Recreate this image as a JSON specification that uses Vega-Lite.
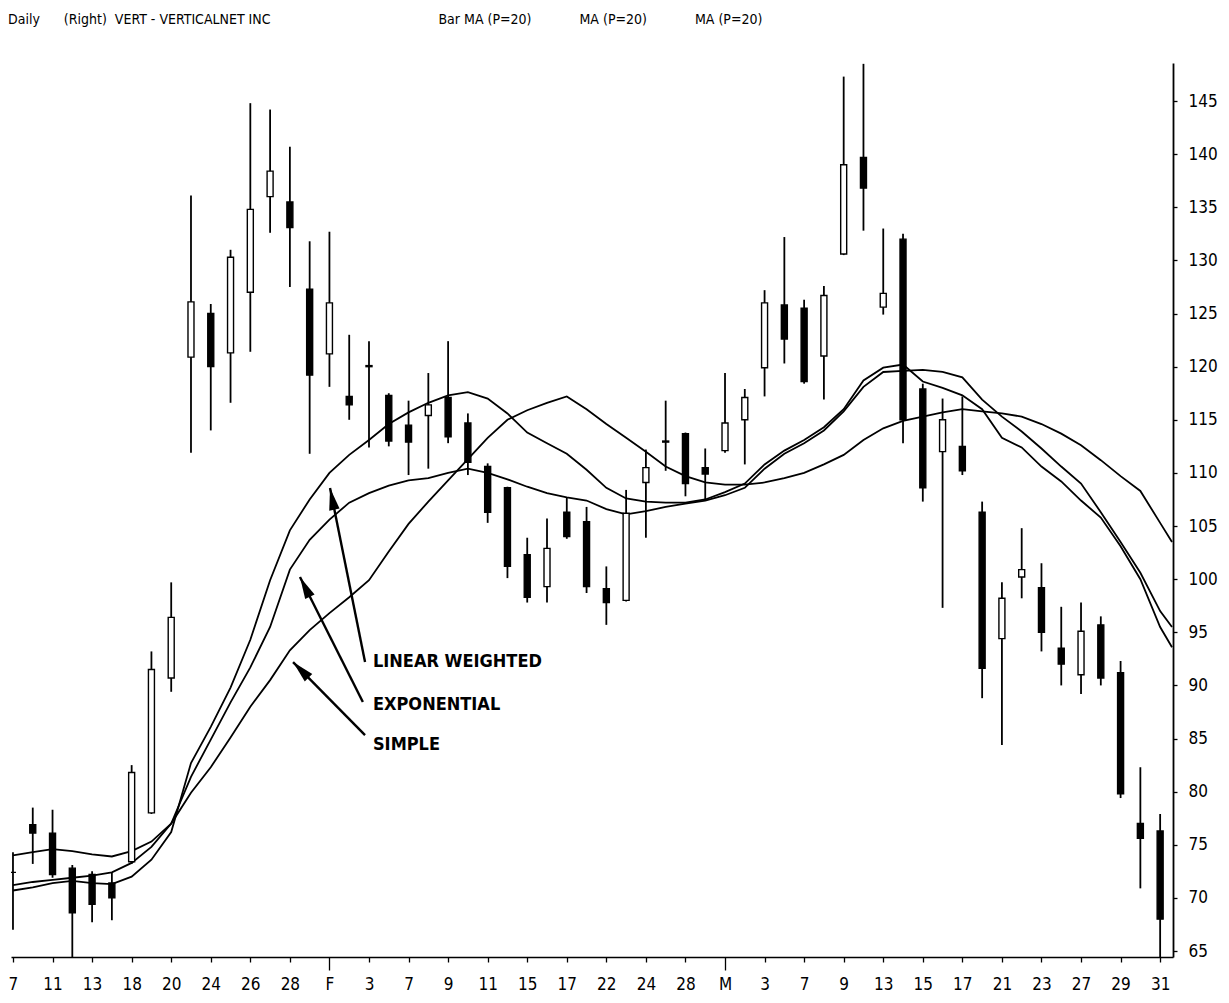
{
  "$schema": "https://vega.github.io/schema/vega-lite/v6.json",
  "autosize": "none",
  "width": 1162,
  "height": 894,
  "padding": {"left": 11, "top": 63, "right": 56, "bottom": 46},
  "background": "white",
  "view": {"stroke": null},
  "title": {
    "text": "Daily\u00a0\u00a0\u00a0\u00a0\u00a0\u00a0(Right)\u00a0\u00a0VERT - VERTICALNET INC\u00a0\u00a0\u00a0\u00a0\u00a0\u00a0\u00a0\u00a0\u00a0\u00a0\u00a0\u00a0\u00a0\u00a0\u00a0\u00a0\u00a0\u00a0\u00a0\u00a0\u00a0\u00a0\u00a0\u00a0\u00a0\u00a0\u00a0\u00a0\u00a0\u00a0\u00a0\u00a0\u00a0\u00a0\u00a0\u00a0\u00a0\u00a0\u00a0\u00a0\u00a0\u00a0Bar\u00a0MA (P=20)\u00a0\u00a0\u00a0\u00a0\u00a0\u00a0\u00a0\u00a0\u00a0\u00a0\u00a0\u00a0MA (P=20)\u00a0\u00a0\u00a0\u00a0\u00a0\u00a0\u00a0\u00a0\u00a0\u00a0\u00a0\u00a0MA (P=20)",
    "anchor": "start",
    "frame": "group",
    "offset": 36,
    "dx": -3,
    "font": "Liberation Sans Narrow, Arial Narrow, DejaVu Sans Condensed, Liberation Sans, sans-serif",
    "fontSize": 14,
    "fontWeight": "normal",
    "color": "black"
  },
  "datasets": {
    "candles": [
      {"d": "Jan 7", "i": 0, "o": 72.4, "h": 74.3, "l": 67.0, "c": 72.4},
      {"d": "Jan 10", "i": 1, "o": 76.9, "h": 78.5, "l": 73.2, "c": 76.1},
      {"d": "Jan 11", "i": 2, "o": 76.1, "h": 78.3, "l": 71.9, "c": 72.2},
      {"d": "Jan 12", "i": 3, "o": 72.8, "h": 73.1, "l": 64.0, "c": 68.6},
      {"d": "Jan 13", "i": 4, "o": 72.2, "h": 72.5, "l": 67.7, "c": 69.4},
      {"d": "Jan 14", "i": 5, "o": 71.4, "h": 72.4, "l": 67.9, "c": 70.0},
      {"d": "Jan 18", "i": 6, "o": 73.4, "h": 82.5, "l": 73.2, "c": 81.8},
      {"d": "Jan 19", "i": 7, "o": 78.0, "h": 93.2, "l": 77.9, "c": 91.5},
      {"d": "Jan 20", "i": 8, "o": 90.7, "h": 99.7, "l": 89.4, "c": 96.4},
      {"d": "Jan 21", "i": 9, "o": 120.9, "h": 136.1, "l": 111.9, "c": 126.1},
      {"d": "Jan 24", "i": 10, "o": 125.0, "h": 125.9, "l": 114.0, "c": 120.0},
      {"d": "Jan 25", "i": 11, "o": 121.3, "h": 131.0, "l": 116.6, "c": 130.3},
      {"d": "Jan 26", "i": 12, "o": 127.0, "h": 144.8, "l": 121.4, "c": 134.8},
      {"d": "Jan 27", "i": 13, "o": 136.0, "h": 144.2, "l": 132.6, "c": 138.4},
      {"d": "Jan 28", "i": 14, "o": 135.5, "h": 140.7, "l": 127.5, "c": 133.1},
      {"d": "Jan 31", "i": 15, "o": 127.3, "h": 131.8, "l": 111.8, "c": 119.2},
      {"d": "Feb 1", "i": 16, "o": 121.2, "h": 132.7, "l": 118.1, "c": 126.0},
      {"d": "Feb 2", "i": 17, "o": 117.2, "h": 123.0, "l": 115.0, "c": 116.4},
      {"d": "Feb 3", "i": 18, "o": 120.1, "h": 122.4, "l": 112.4, "c": 120.0},
      {"d": "Feb 4", "i": 19, "o": 117.3, "h": 117.5, "l": 112.5, "c": 113.0},
      {"d": "Feb 7", "i": 20, "o": 114.5, "h": 116.8, "l": 109.8, "c": 112.9},
      {"d": "Feb 8", "i": 21, "o": 115.4, "h": 119.4, "l": 110.4, "c": 116.4},
      {"d": "Feb 9", "i": 22, "o": 117.1, "h": 122.4, "l": 112.8, "c": 113.4},
      {"d": "Feb 10", "i": 23, "o": 114.7, "h": 115.6, "l": 109.8, "c": 111.0},
      {"d": "Feb 11", "i": 24, "o": 110.6, "h": 110.9, "l": 105.3, "c": 106.3},
      {"d": "Feb 14", "i": 25, "o": 108.6, "h": 108.7, "l": 100.1, "c": 101.2},
      {"d": "Feb 15", "i": 26, "o": 102.3, "h": 103.9, "l": 97.8, "c": 98.3},
      {"d": "Feb 16", "i": 27, "o": 99.3, "h": 105.7, "l": 97.8, "c": 102.9},
      {"d": "Feb 17", "i": 28, "o": 106.3, "h": 107.7, "l": 103.8, "c": 104.0},
      {"d": "Feb 18", "i": 29, "o": 105.4, "h": 106.8, "l": 98.7, "c": 99.3},
      {"d": "Feb 22", "i": 30, "o": 99.1, "h": 101.2, "l": 95.7, "c": 97.8},
      {"d": "Feb 23", "i": 31, "o": 98.0, "h": 108.4, "l": 97.9, "c": 106.2},
      {"d": "Feb 24", "i": 32, "o": 109.1, "h": 112.2, "l": 103.9, "c": 110.5},
      {"d": "Feb 25", "i": 33, "o": 112.9, "h": 116.8, "l": 110.2, "c": 113.0},
      {"d": "Feb 28", "i": 34, "o": 113.7, "h": 113.8, "l": 107.8, "c": 109.0},
      {"d": "Feb 29", "i": 35, "o": 110.5, "h": 112.3, "l": 107.4, "c": 109.9},
      {"d": "Mar 1", "i": 36, "o": 112.1, "h": 119.4, "l": 111.9, "c": 114.7},
      {"d": "Mar 2", "i": 37, "o": 115.0, "h": 117.9, "l": 110.8, "c": 117.1},
      {"d": "Mar 3", "i": 38, "o": 119.9, "h": 127.2, "l": 117.2, "c": 126.0},
      {"d": "Mar 6", "i": 39, "o": 125.8, "h": 132.2, "l": 120.3, "c": 122.6},
      {"d": "Mar 7", "i": 40, "o": 125.5, "h": 126.3, "l": 118.4, "c": 118.6},
      {"d": "Mar 8", "i": 41, "o": 121.0, "h": 127.6, "l": 116.9, "c": 126.7},
      {"d": "Mar 9", "i": 42, "o": 130.6, "h": 147.3, "l": 130.5, "c": 139.0},
      {"d": "Mar 10", "i": 43, "o": 139.7, "h": 148.5, "l": 132.8, "c": 136.8},
      {"d": "Mar 13", "i": 44, "o": 125.6, "h": 133.0, "l": 124.9, "c": 126.9},
      {"d": "Mar 14", "i": 45, "o": 132.0, "h": 132.5, "l": 112.8, "c": 115.0},
      {"d": "Mar 15", "i": 46, "o": 117.9, "h": 118.4, "l": 107.3, "c": 108.6},
      {"d": "Mar 16", "i": 47, "o": 112.0, "h": 117.0, "l": 97.3, "c": 115.0},
      {"d": "Mar 17", "i": 48, "o": 112.5, "h": 117.2, "l": 109.8, "c": 110.2},
      {"d": "Mar 20", "i": 49, "o": 106.3, "h": 107.3, "l": 88.8, "c": 91.6},
      {"d": "Mar 21", "i": 50, "o": 94.4, "h": 99.7, "l": 84.4, "c": 98.2},
      {"d": "Mar 22", "i": 51, "o": 100.2, "h": 104.8, "l": 98.2, "c": 100.9},
      {"d": "Mar 23", "i": 52, "o": 99.2, "h": 101.5, "l": 93.2, "c": 95.0},
      {"d": "Mar 24", "i": 53, "o": 93.5, "h": 97.4, "l": 90.0, "c": 92.0},
      {"d": "Mar 27", "i": 54, "o": 91.0, "h": 97.8, "l": 89.2, "c": 95.1},
      {"d": "Mar 28", "i": 55, "o": 95.7, "h": 96.5, "l": 90.0, "c": 90.7},
      {"d": "Mar 29", "i": 56, "o": 91.2, "h": 92.3, "l": 79.4, "c": 79.8},
      {"d": "Mar 30", "i": 57, "o": 77.0, "h": 82.3, "l": 70.9, "c": 75.6},
      {"d": "Mar 31", "i": 58, "o": 76.3, "h": 77.9, "l": 64.0, "c": 68.0}
    ],
    "ma": [
      {"s": "lw", "i": 0, "v": 70.7}, {"s": "lw", "i": 1, "v": 71.0}, {"s": "lw", "i": 2, "v": 71.4}, {"s": "lw", "i": 3, "v": 71.6}, {"s": "lw", "i": 4, "v": 71.4}, {"s": "lw", "i": 5, "v": 71.3}, {"s": "lw", "i": 6, "v": 72.0}, {"s": "lw", "i": 7, "v": 73.6}, {"s": "lw", "i": 8, "v": 76.2}, {"s": "lw", "i": 9, "v": 82.7},
      {"s": "lw", "i": 10, "v": 86.1}, {"s": "lw", "i": 11, "v": 89.8}, {"s": "lw", "i": 12, "v": 94.3}, {"s": "lw", "i": 13, "v": 99.9}, {"s": "lw", "i": 14, "v": 104.6}, {"s": "lw", "i": 15, "v": 107.5}, {"s": "lw", "i": 16, "v": 110.0}, {"s": "lw", "i": 17, "v": 111.7}, {"s": "lw", "i": 18, "v": 113.1}, {"s": "lw", "i": 19, "v": 114.6},
      {"s": "lw", "i": 20, "v": 115.7}, {"s": "lw", "i": 21, "v": 116.6}, {"s": "lw", "i": 22, "v": 117.3}, {"s": "lw", "i": 23, "v": 117.6}, {"s": "lw", "i": 24, "v": 117.0}, {"s": "lw", "i": 25, "v": 115.6}, {"s": "lw", "i": 26, "v": 113.8}, {"s": "lw", "i": 27, "v": 112.8}, {"s": "lw", "i": 28, "v": 111.8}, {"s": "lw", "i": 29, "v": 110.3},
      {"s": "lw", "i": 30, "v": 108.6}, {"s": "lw", "i": 31, "v": 107.6}, {"s": "lw", "i": 32, "v": 107.3}, {"s": "lw", "i": 33, "v": 107.2}, {"s": "lw", "i": 34, "v": 107.2}, {"s": "lw", "i": 35, "v": 107.5}, {"s": "lw", "i": 36, "v": 108.2}, {"s": "lw", "i": 37, "v": 109.0}, {"s": "lw", "i": 38, "v": 110.8}, {"s": "lw", "i": 39, "v": 112.1},
      {"s": "lw", "i": 40, "v": 113.1}, {"s": "lw", "i": 41, "v": 114.3}, {"s": "lw", "i": 42, "v": 116.0}, {"s": "lw", "i": 43, "v": 118.7}, {"s": "lw", "i": 44, "v": 119.9}, {"s": "lw", "i": 45, "v": 120.2}, {"s": "lw", "i": 46, "v": 118.6}, {"s": "lw", "i": 47, "v": 118.0}, {"s": "lw", "i": 48, "v": 117.3}, {"s": "lw", "i": 49, "v": 116.0},
      {"s": "lw", "i": 50, "v": 113.3}, {"s": "lw", "i": 51, "v": 112.4}, {"s": "lw", "i": 52, "v": 110.6}, {"s": "lw", "i": 53, "v": 109.2}, {"s": "lw", "i": 54, "v": 107.4}, {"s": "lw", "i": 55, "v": 105.8}, {"s": "lw", "i": 56, "v": 103.1}, {"s": "lw", "i": 57, "v": 100.0}, {"s": "lw", "i": 58, "v": 95.5}, {"s": "lw", "i": 58.6, "v": 93.6},
      {"s": "exp", "i": 0, "v": 71.2}, {"s": "exp", "i": 1, "v": 71.5}, {"s": "exp", "i": 2, "v": 71.7}, {"s": "exp", "i": 3, "v": 71.9}, {"s": "exp", "i": 4, "v": 72.1}, {"s": "exp", "i": 5, "v": 72.4}, {"s": "exp", "i": 6, "v": 73.3}, {"s": "exp", "i": 7, "v": 74.8}, {"s": "exp", "i": 8, "v": 77.0}, {"s": "exp", "i": 9, "v": 81.4},
      {"s": "exp", "i": 10, "v": 84.9}, {"s": "exp", "i": 11, "v": 88.4}, {"s": "exp", "i": 12, "v": 91.7}, {"s": "exp", "i": 13, "v": 95.5}, {"s": "exp", "i": 14, "v": 100.9}, {"s": "exp", "i": 15, "v": 103.7}, {"s": "exp", "i": 16, "v": 105.6}, {"s": "exp", "i": 17, "v": 107.2}, {"s": "exp", "i": 18, "v": 108.1}, {"s": "exp", "i": 19, "v": 108.8},
      {"s": "exp", "i": 20, "v": 109.3}, {"s": "exp", "i": 21, "v": 109.5}, {"s": "exp", "i": 22, "v": 110.0}, {"s": "exp", "i": 23, "v": 110.4}, {"s": "exp", "i": 24, "v": 110.0}, {"s": "exp", "i": 25, "v": 109.4}, {"s": "exp", "i": 26, "v": 108.7}, {"s": "exp", "i": 27, "v": 108.1}, {"s": "exp", "i": 28, "v": 107.7}, {"s": "exp", "i": 29, "v": 107.4},
      {"s": "exp", "i": 30, "v": 106.6}, {"s": "exp", "i": 31, "v": 106.1}, {"s": "exp", "i": 32, "v": 106.4}, {"s": "exp", "i": 33, "v": 106.8}, {"s": "exp", "i": 34, "v": 107.1}, {"s": "exp", "i": 35, "v": 107.4}, {"s": "exp", "i": 36, "v": 107.9}, {"s": "exp", "i": 37, "v": 108.6}, {"s": "exp", "i": 38, "v": 110.4}, {"s": "exp", "i": 39, "v": 111.8},
      {"s": "exp", "i": 40, "v": 112.8}, {"s": "exp", "i": 41, "v": 114.0}, {"s": "exp", "i": 42, "v": 115.8}, {"s": "exp", "i": 43, "v": 118.1}, {"s": "exp", "i": 44, "v": 119.5}, {"s": "exp", "i": 45, "v": 119.6}, {"s": "exp", "i": 46, "v": 119.7}, {"s": "exp", "i": 47, "v": 119.5}, {"s": "exp", "i": 48, "v": 119.0}, {"s": "exp", "i": 49, "v": 116.9},
      {"s": "exp", "i": 50, "v": 115.3}, {"s": "exp", "i": 51, "v": 113.9}, {"s": "exp", "i": 52, "v": 112.3}, {"s": "exp", "i": 53, "v": 110.6}, {"s": "exp", "i": 54, "v": 109.0}, {"s": "exp", "i": 55, "v": 106.3}, {"s": "exp", "i": 56, "v": 103.5}, {"s": "exp", "i": 57, "v": 100.6}, {"s": "exp", "i": 58, "v": 97.0}, {"s": "exp", "i": 58.6, "v": 95.5},
      {"s": "simple", "i": 0, "v": 74.0}, {"s": "simple", "i": 1, "v": 74.3}, {"s": "simple", "i": 2, "v": 74.6}, {"s": "simple", "i": 3, "v": 74.4}, {"s": "simple", "i": 4, "v": 74.1}, {"s": "simple", "i": 5, "v": 73.9}, {"s": "simple", "i": 6, "v": 74.4}, {"s": "simple", "i": 7, "v": 75.3}, {"s": "simple", "i": 8, "v": 77.0}, {"s": "simple", "i": 9, "v": 79.9},
      {"s": "simple", "i": 10, "v": 82.3}, {"s": "simple", "i": 11, "v": 85.1}, {"s": "simple", "i": 12, "v": 88.0}, {"s": "simple", "i": 13, "v": 90.5}, {"s": "simple", "i": 14, "v": 93.3}, {"s": "simple", "i": 15, "v": 95.2}, {"s": "simple", "i": 16, "v": 96.8}, {"s": "simple", "i": 17, "v": 98.3}, {"s": "simple", "i": 18, "v": 99.9}, {"s": "simple", "i": 19, "v": 102.6},
      {"s": "simple", "i": 20, "v": 105.2}, {"s": "simple", "i": 21, "v": 107.3}, {"s": "simple", "i": 22, "v": 109.3}, {"s": "simple", "i": 23, "v": 111.3}, {"s": "simple", "i": 24, "v": 113.3}, {"s": "simple", "i": 25, "v": 115.0}, {"s": "simple", "i": 26, "v": 115.9}, {"s": "simple", "i": 27, "v": 116.6}, {"s": "simple", "i": 28, "v": 117.2}, {"s": "simple", "i": 29, "v": 116.0},
      {"s": "simple", "i": 30, "v": 114.6}, {"s": "simple", "i": 31, "v": 113.3}, {"s": "simple", "i": 32, "v": 112.0}, {"s": "simple", "i": 33, "v": 110.6}, {"s": "simple", "i": 34, "v": 109.7}, {"s": "simple", "i": 35, "v": 109.1}, {"s": "simple", "i": 36, "v": 108.9}, {"s": "simple", "i": 37, "v": 108.9}, {"s": "simple", "i": 38, "v": 109.1}, {"s": "simple", "i": 39, "v": 109.5},
      {"s": "simple", "i": 40, "v": 110.0}, {"s": "simple", "i": 41, "v": 110.8}, {"s": "simple", "i": 42, "v": 111.7}, {"s": "simple", "i": 43, "v": 113.1}, {"s": "simple", "i": 44, "v": 114.2}, {"s": "simple", "i": 45, "v": 114.9}, {"s": "simple", "i": 46, "v": 115.3}, {"s": "simple", "i": 47, "v": 115.7}, {"s": "simple", "i": 48, "v": 116.0}, {"s": "simple", "i": 49, "v": 115.8},
      {"s": "simple", "i": 50, "v": 115.6}, {"s": "simple", "i": 51, "v": 115.3}, {"s": "simple", "i": 52, "v": 114.6}, {"s": "simple", "i": 53, "v": 113.7}, {"s": "simple", "i": 54, "v": 112.6}, {"s": "simple", "i": 55, "v": 111.2}, {"s": "simple", "i": 56, "v": 109.7}, {"s": "simple", "i": 57, "v": 108.3}, {"s": "simple", "i": 58, "v": 105.3}, {"s": "simple", "i": 58.6, "v": 103.5}
    ],
    "arrows": [
      {"name": "lw", "x": 17.8, "y": 92.2, "x2": 16.03, "y2": 108.58},
      {"name": "exp", "x": 17.69, "y": 88.44, "x2": 14.51, "y2": 100.2},
      {"name": "simple", "x": 17.8, "y": 85.33, "x2": 14.16, "y2": 92.2}
    ],
    "notes": [
      {"text": "LINEAR WEIGHTED", "x": 18.2, "y": 92.2},
      {"text": "EXPONENTIAL", "x": 18.2, "y": 88.16},
      {"text": "SIMPLE", "x": 18.2, "y": 84.39}
    ]
  },
  "layer": [
    {
      "data": {"name": "ma"},
      "mark": {"type": "line", "color": "black", "strokeWidth": 1.8, "clip": true},
      "encoding": {
        "x": {
          "field": "i", "type": "quantitative",
          "scale": {"domain": [-0.1, 58.65], "nice": false, "zero": false, "padding": 0},
          "axis": {
            "orient": "bottom",
            "title": null,
            "grid": false,
            "values": [0,1,2,3,4,5,6,7,8,9,10,11,12,13,14,15,16,17,18,19,20,21,22,23,24,25,26,27,28,29,30,31,32,33,34,35,36,37,38,39,40,41,42,43,44,45,46,47,48,49,50,51,52,53,54,55,56,57,58],
            "labelExpr": "['7','','11','','13','','18','','20','','24','','26','','28','','F','','3','','7','','9','','11','','15','','17','','22','','24','','28','','M','','3','','7','','9','','13','','15','','17','','21','','23','','27','','29','','31'][datum.value]",
            "labelOverlap": false,
            "labelFlush": false,
            "labelFont": "Liberation Sans Narrow, Arial Narrow, DejaVu Sans Condensed, Liberation Sans, sans-serif",
            "labelFontSize": 17,
            "labelColor": "black",
            "labelPadding": {"condition": {"test": "datum.value == 16 || datum.value == 36", "value": 6}, "value": 14},
            "domainColor": "black",
            "domainWidth": 1.5,
            "tickColor": "black",
            "tickWidth": 1.3,
            "tickSize": {"condition": {"test": "datum.value == 16 || datum.value == 36", "value": 13}, "value": 5}
          }
        },
        "y": {
          "field": "v", "type": "quantitative",
          "scale": {"domain": [64.44, 148.58], "nice": false, "zero": false, "padding": 0},
          "axis": {
            "orient": "right",
            "title": null,
            "grid": false,
            "values": [65,67.5,70,72.5,75,77.5,80,82.5,85,87.5,90,92.5,95,97.5,100,102.5,105,107.5,110,112.5,115,117.5,120,122.5,125,127.5,130,132.5,135,137.5,140,142.5,145,147.5],
            "labelExpr": "datum.value % 5 == 0 ? datum.label : ''",
            "labelFont": "Liberation Sans Narrow, Arial Narrow, DejaVu Sans Condensed, Liberation Sans, sans-serif",
            "labelFontSize": 17,
            "labelColor": "black",
            "labelPadding": 11,
            "labelOverlap": false,
            "labelFlush": false,
            "domainColor": "black",
            "domainWidth": 1.8,
            "tickColor": "black",
            "tickWidth": 1.3,
            "tickSize": {"condition": {"test": "datum.value % 5 == 0", "value": 4}, "value": 2}
          }
        },
        "detail": {"field": "s", "type": "nominal"}
      }
    },
    {
      "data": {"name": "candles"},
      "mark": {"type": "rule", "color": "black", "strokeWidth": 1.8, "clip": true},
      "encoding": {
        "x": {"field": "i", "type": "quantitative"},
        "y": {"field": "l", "type": "quantitative"},
        "y2": {"field": "h"}
      }
    },
    {
      "data": {"name": "candles"},
      "mark": {"type": "bar", "size": 6, "stroke": "black", "strokeWidth": 1.4, "clip": true},
      "encoding": {
        "x": {"field": "i", "type": "quantitative"},
        "y": {"field": "o", "type": "quantitative"},
        "y2": {"field": "c"},
        "fill": {"condition": {"test": "datum.c > datum.o", "value": "white"}, "value": "black"}
      }
    },
    {
      "data": {"name": "arrows"},
      "mark": {"type": "rule", "color": "black", "strokeWidth": 2.4},
      "encoding": {
        "x": {"field": "x", "type": "quantitative"},
        "y": {"field": "y", "type": "quantitative"},
        "x2": {"field": "x2"},
        "y2": {"field": "y2"}
      }
    },
    {
      "data": {"name": "arrows"},
      "transform": [{"filter": "datum.name == 'lw'"}],
      "mark": {"type": "point", "shape": "M0,0L0.5,2.1L-0.5,2.1Z", "filled": true, "color": "black", "opacity": 1, "size": 441, "angle": -11.4},
      "encoding": {
        "x": {"field": "x2", "type": "quantitative"},
        "y": {"field": "y2", "type": "quantitative"}
      }
    },
    {
      "data": {"name": "arrows"},
      "transform": [{"filter": "datum.name == 'exp'"}],
      "mark": {"type": "point", "shape": "M0,0L0.5,2.1L-0.5,2.1Z", "filled": true, "color": "black", "opacity": 1, "size": 441, "angle": -26.7},
      "encoding": {
        "x": {"field": "x2", "type": "quantitative"},
        "y": {"field": "y2", "type": "quantitative"}
      }
    },
    {
      "data": {"name": "arrows"},
      "transform": [{"filter": "datum.name == 'simple'"}],
      "mark": {"type": "point", "shape": "M0,0L0.5,2.1L-0.5,2.1Z", "filled": true, "color": "black", "opacity": 1, "size": 441, "angle": -44.6},
      "encoding": {
        "x": {"field": "x2", "type": "quantitative"},
        "y": {"field": "y2", "type": "quantitative"}
      }
    },
    {
      "data": {"name": "notes"},
      "mark": {"type": "text", "align": "left", "baseline": "middle", "font": "Liberation Sans Narrow, Arial Narrow, DejaVu Sans Condensed, Liberation Sans, sans-serif", "fontWeight": "bold", "fontSize": 18, "color": "black"},
      "encoding": {
        "x": {"field": "x", "type": "quantitative"},
        "y": {"field": "y", "type": "quantitative"},
        "text": {"field": "text"}
      }
    }
  ]
}
